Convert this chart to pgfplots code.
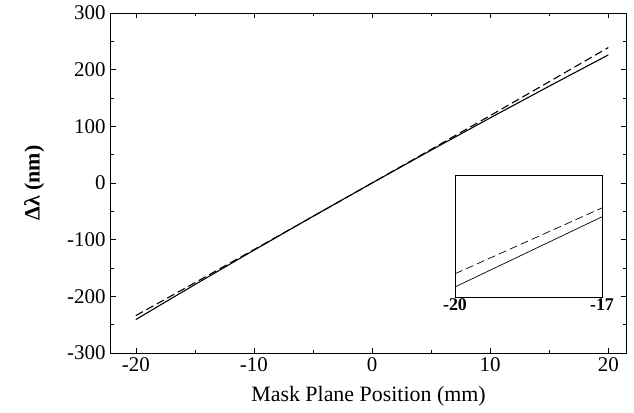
\documentclass[border=0pt]{standalone}
\usepackage{fontspec}
\setmainfont{Liberation Serif}
\usepackage{pgfplots}
\pgfplotsset{compat=1.18}
\begin{document}
\begin{tikzpicture}
\begin{axis}[
  name=main,
  scale only axis,
  width=515bp, height=340bp,
  xmin=-22.1, xmax=21.5,
  ymin=-300, ymax=300,
  xtick={-20,-10,0,10,20},
  xticklabels={-20,-10,0,10,20},
  ytick={-300,-200,...,300},
  yticklabels={-300,-200,-100,0,100,200,300},
  minor xtick={-15,-5,5,15},
  minor ytick={-250,-150,...,250},
  tick align=inside,
  major tick length=5bp,
  minor tick length=3bp,
  tick style={line width=0.6pt, black},
  axis line style={line width=1pt},
  ticklabel style={font=\fontsize{21}{23}\selectfont},
  xticklabel style={yshift=-1bp},
  yticklabel style={xshift=-2bp},
  xlabel={Mask Plane Position (mm)},
  ylabel={\bfseries Δλ (nm)},
  label style={font=\fontsize{22}{25}\selectfont},
  xlabel style={yshift=-8bp},
  ylabel style={yshift=16bp},
]
\addplot[black, line width=1.1pt] coordinates {
(-20,-241) (-17,-203.9) (-15,-179.3) (-10,-118.6) (-5,-58.8) (0,0) (5,57.9) (10,114.9) (15,170.9) (20,226)};
\addplot[black, line width=1.1pt, dash pattern=on 8bp off 4bp] coordinates {
(-20,-234) (-17,-199.2) (-15,-176.0) (-10,-117.6) (-5,-59.0) (0,0) (5,59.3) (10,118.9) (15,178.8) (20,239)};
\end{axis}
\begin{axis}[
  at={(main.south west)}, anchor=south west,
  xshift=344bp, yshift=56bp,
  scale only axis,
  width=147bp, height=122bp,
  xmin=-20, xmax=-17,
  ymin=-246.3, ymax=-181.8,
  xtick={-20,-17},
  xticklabels={-20,-17},
  ytick=\empty,
  major tick length=0pt,
  axis line style={line width=1pt},
  axis background/.style={fill=white},
  xticklabel style={font=\bfseries\fontsize{18}{20}\selectfont, yshift=2bp},
  clip=true,
]
\addplot[black, line width=0.7pt] coordinates {(-20,-241) (-17,-203.9)};
\addplot[black, line width=0.7pt, dash pattern=on 8bp off 4bp] coordinates {(-20,-234) (-17,-199.2)};
\end{axis}
\pgfresetboundingbox
\path[use as bounding box] ([shift={(-111bp,-60bp)}]main.south west) rectangle ([shift={(8bp,13bp)}]main.north east);
\end{tikzpicture}
\end{document}
